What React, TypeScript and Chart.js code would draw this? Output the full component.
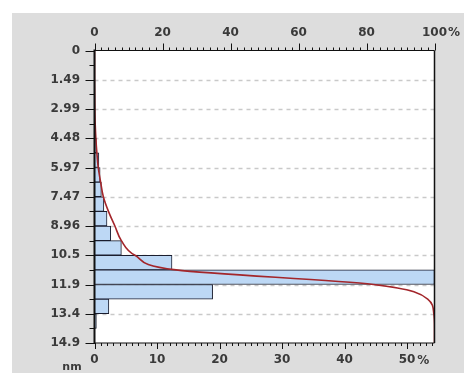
import React, { useEffect, useRef } from 'react';
import { Chart, registerables } from 'chart.js';

Chart.register(...registerables);

// ---- data ----
const Y_MAX = 14.9333; // nm
const BIN_COUNT = 20;
const BIN_WIDTH = Y_MAX / BIN_COUNT;
const yTickLabels = ['0', '1.49', '2.99', '4.48', '5.97', '7.47', '8.96', '10.5', '11.9', '13.4', '14.9'];
// histogram share (%) per bin, bin i spans [i*BIN_WIDTH, (i+1)*BIN_WIDTH]
const binPercents = [0, 0, 0, 0, 0, 0.1, 0.3, 0.7, 0.9, 1.1, 1.5, 2.0, 2.6, 4.3, 12.4, 54.4, 18.9, 2.3, 0.3, 0];
// cumulative share (%) read at each bin edge
const cumulativePercents = [0, 0, 0, 0.05, 0.1, 0.2, 0.4, 0.7, 1.1, 1.8, 2.6, 4.1, 6.0, 7.9, 11.9, 24, 82, 98, 99.8, 100, 100];
const bottomMax = 54.4;
const bottomTicks = [0, 10, 20, 30, 40, 50];
const topTicks = [0, 20, 40, 60, 80, 100];
const unitY = 'nm';
const unitX = '%';

const FONT = { family: 'DejaVu Sans', size: 12, weight: 'bold' as const };
const TEXT = '#3a3a3a';

const decorPlugin = {
  id: 'decor',
  beforeDraw(chart: any) {
    const { ctx, chartArea: a, width, height } = chart;
    ctx.save();
    ctx.fillStyle = '#ffffff';
    ctx.fillRect(0, 0, width, height);
    ctx.fillStyle = '#dddddd';
    ctx.fillRect(12, 13, width - 12, height - 13);
    ctx.fillStyle = '#ffffff';
    ctx.fillRect(a.left, a.top, a.right - a.left, a.bottom - a.top);
    ctx.restore();
  },
  beforeDatasetsDraw(chart: any) {
    const { ctx, chartArea: a, scales } = chart;
    ctx.save();
    ctx.strokeStyle = '#c9c9c9';
    ctx.lineWidth = 1.5;
    ctx.setLineDash([4, 4]);
    for (let i = 1; i < yTickLabels.length - 1; i++) {
      const py = Math.round(scales.y.getPixelForValue((i * Y_MAX) / (yTickLabels.length - 1))) + 0.5;
      ctx.beginPath();
      ctx.moveTo(a.left, py);
      ctx.lineTo(a.right, py);
      ctx.stroke();
    }
    ctx.restore();
  },
  afterDatasetsDraw(chart: any) {
    const { ctx, chartArea: a, scales } = chart;
    const y = scales.y, xb = scales.x, xt = scales.xTop;
    ctx.save();
    ctx.strokeStyle = '#111111';
    ctx.lineWidth = 1;
    const seg = (x1: number, y1: number, x2: number, y2: number) => {
      ctx.beginPath();
      ctx.moveTo(x1, y1);
      ctx.lineTo(x2, y2);
      ctx.stroke();
    };
    for (let i = 0; i <= BIN_COUNT; i++) {
      const py = Math.round(y.getPixelForValue(i * BIN_WIDTH)) + 0.5;
      const len = i % 2 === 0 ? 9 : 5;
      seg(a.left - len, py, a.left, py);
    }
    for (let v = 0; v <= 100; v += 2) {
      const px = Math.round(xt.getPixelForValue(v)) + 0.5;
      const len = v % 20 === 0 ? 7 : 3;
      seg(px, a.top - len, px, a.top);
    }
    for (let v = 0; v <= Math.floor(bottomMax); v++) {
      const px = Math.round(xb.getPixelForValue(v)) + 0.5;
      const len = v % 10 === 0 ? 6 : 3;
      seg(px, a.bottom, px, a.bottom + len);
    }
    ctx.lineWidth = 1.2;
    seg(a.left, a.top, a.right, a.top);
    seg(a.left, a.bottom, a.right, a.bottom);
    ctx.lineWidth = 1.5;
    seg(a.right, a.top, a.right, a.bottom);
    ctx.lineWidth = 2;
    seg(a.left, a.top - 1, a.left, a.bottom + 1);
    ctx.restore();
  },
  afterDraw(chart: any) {
    const { ctx, scales } = chart;
    const xb = scales.x, xt = scales.xTop;
    ctx.save();
    ctx.font = `bold ${FONT.size}px "${FONT.family}"`;
    ctx.fillStyle = TEXT;
    ctx.textBaseline = 'middle';
    ctx.textAlign = 'left';
    const topLast = topTicks[topTicks.length - 1];
    const wTop = ctx.measureText(String(topLast)).width;
    ctx.fillText(unitX, xt.getPixelForValue(topLast) + wTop / 2 + 1, 33);
    const botLast = bottomTicks[bottomTicks.length - 1];
    const wBot = ctx.measureText(String(botLast)).width;
    ctx.fillText(unitX, xb.getPixelForValue(botLast) + wBot / 2 + 2, 361);
    ctx.font = `bold 11px "${FONT.family}"`;
    ctx.textAlign = 'center';
    ctx.fillText(unitY, 72, 367);
    ctx.restore();
  },
};

export default function App() {
  const ref = useRef<HTMLCanvasElement | null>(null);
  useEffect(() => {
    if (!ref.current) return;
    const barData = binPercents
      .map((v, i) => ({ x: v, y: (i + 0.5) * BIN_WIDTH }))
      .filter((p) => p.x > 0);
    const lineData = cumulativePercents.map((v, i) => ({ x: v, y: i * BIN_WIDTH }));
    const chart = new Chart(ref.current, {
      type: 'bar',
      data: {
        datasets: [
          {
            type: 'line',
            data: lineData as any,
            xAxisID: 'xTop',
            yAxisID: 'y',
            borderColor: '#a3262b',
            borderWidth: 1.6,
            pointRadius: 0,
            cubicInterpolationMode: 'monotone',
            fill: false,
            order: 0,
          } as any,
          {
            type: 'bar',
            data: barData as any,
            xAxisID: 'x',
            yAxisID: 'y',
            backgroundColor: '#bdd8f5',
            borderColor: '#1a1d2e',
            borderWidth: 1,
            borderSkipped: 'start',
            barPercentage: 1,
            categoryPercentage: 1,
            order: 1,
          } as any,
        ],
      },
      options: {
        indexAxis: 'y',
        animation: false,
        responsive: false,
        maintainAspectRatio: false,
        layout: { padding: { left: 0, top: 0, right: 29.5, bottom: 0 } },
        plugins: { legend: { display: false }, tooltip: { enabled: false } },
        scales: {
          y: {
            type: 'linear',
            position: 'left',
            reverse: true,
            offset: false,
            min: 0,
            max: Y_MAX,
            afterBuildTicks: (s: any) => {
              s.ticks = yTickLabels.map((_, i) => ({ value: (i * Y_MAX) / (yTickLabels.length - 1) }));
            },
            ticks: {
              callback: (_v: any, i: number) => yTickLabels[i],
              padding: 14.5,
              font: FONT,
              color: TEXT,
            },
            grid: { display: false, drawTicks: false, offset: false },
            border: { display: false },
            afterFit: (s: any) => {
              s.width = 94.5;
            },
          },
          x: {
            type: 'linear',
            position: 'bottom',
            offset: false,
            min: 0,
            max: bottomMax,
            afterBuildTicks: (s: any) => {
              s.ticks = bottomTicks.map((v) => ({ value: v }));
            },
            ticks: { padding: 10, font: FONT, color: TEXT, maxRotation: 0, callback: (v: any) => String(v) },
            grid: { display: false, drawTicks: false },
            border: { display: false },
            afterFit: (s: any) => {
              s.height = 30;
            },
          },
          xTop: {
            type: 'linear',
            position: 'top',
            offset: false,
            min: 0,
            max: 100,
            afterBuildTicks: (s: any) => {
              s.ticks = topTicks.map((v) => ({ value: v }));
            },
            ticks: { padding: 10, font: FONT, color: TEXT, maxRotation: 0, callback: (v: any) => String(v) },
            grid: { display: false, drawTicks: false },
            border: { display: false },
            afterFit: (s: any) => {
              s.height = 50.5;
            },
          },
        },
      } as any,
      plugins: [decorPlugin],
    });
    return () => chart.destroy();
  }, []);
  return (
    <div style={{ position: 'absolute', left: 0, top: 0, width: 464, height: 373 }}>
      <canvas ref={ref} width={464} height={373} style={{ width: 464, height: 373, display: 'block' }} />
    </div>
  );
}
